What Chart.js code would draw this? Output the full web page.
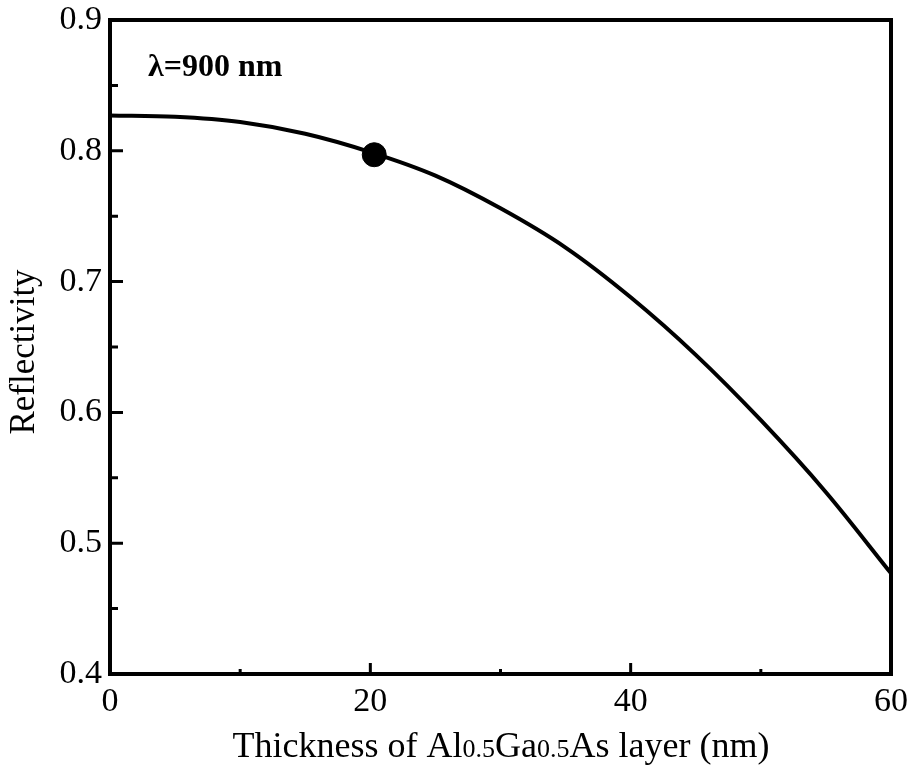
<!DOCTYPE html>
<html>
<head>
<meta charset="utf-8">
<script src="https://cdn.jsdelivr.net/npm/chart.js@4.4.1/dist/chart.umd.min.js"></script>
<style>
  html, body { margin: 0; padding: 0; background: #fff; }
  #wrap { width: 911px; height: 767px; position: relative; }
</style>
</head>
<body>
<div id="wrap"><canvas id="reflChart"></canvas></div>
<script>
// Reflectivity vs. Al0.5Ga0.5As layer thickness at 900 nm
const thickness = [0, 5, 10, 15, 20, 25, 30, 35, 40, 45, 50, 55, 60];
const reflectivity = [0.827, 0.826, 0.822, 0.813, 0.799, 0.781, 0.756, 0.726, 0.688, 0.644, 0.594, 0.539, 0.477];
const markedPoint = [{ x: 20.3, y: 0.797 }];
const xTicks = [0, 20, 40, 60];
const xMinorTicks = [10, 30, 50];
const yTicks = [0.4, 0.5, 0.6, 0.7, 0.8, 0.9];
const yMinorTicks = [0.45, 0.55, 0.65, 0.75, 0.85];

const SERIF = '"Liberation Serif", "DejaVu Serif", serif';

// frame + inward tick marks + titles
const framePlugin = {
    id: 'frame',
    afterDraw(chart) {
        const { ctx, chartArea: a, scales } = chart;
        const xs = scales.x, ys = scales.y;
        ctx.save();
        ctx.strokeStyle = '#000';
        ctx.lineWidth = 4;
        ctx.strokeRect(a.left, a.top, a.right - a.left, a.bottom - a.top);

        ctx.lineWidth = 3;
        ctx.beginPath();
        xTicks.slice(1, -1).forEach(v => {
            const px = xs.getPixelForValue(v);
            ctx.moveTo(px, a.bottom); ctx.lineTo(px, a.bottom - 11);
        });
        xMinorTicks.forEach(v => {
            const px = xs.getPixelForValue(v);
            ctx.moveTo(px, a.bottom); ctx.lineTo(px, a.bottom - 5);
        });
        yTicks.slice(1, -1).forEach(v => {
            const py = ys.getPixelForValue(v);
            ctx.moveTo(a.left, py); ctx.lineTo(a.left + 13, py);
        });
        yMinorTicks.forEach(v => {
            const py = ys.getPixelForValue(v);
            ctx.moveTo(a.left, py); ctx.lineTo(a.left + 8, py);
        });
        ctx.stroke();

        // annotation
        ctx.fillStyle = '#000';
        ctx.font = 'bold 32px ' + SERIF;
        ctx.textBaseline = 'alphabetic';
        ctx.textAlign = 'left';
        ctx.fillText('λ=900 nm', 148, 76);

        // x axis title with smaller composition digits
        const parts = [
            ['Thickness of Al', 36], ['0.5', 26], ['Ga', 36], ['0.5', 26], ['As layer (nm)', 36]
        ];
        let total = 0;
        parts.forEach(p => { ctx.font = p[1] + 'px ' + SERIF; total += ctx.measureText(p[0]).width; });
        let cx = 501 - total / 2;
        parts.forEach(p => {
            ctx.font = p[1] + 'px ' + SERIF;
            ctx.fillText(p[0], cx, 757);
            cx += ctx.measureText(p[0]).width;
        });

        // y axis title
        ctx.translate(25, 352);
        ctx.rotate(-Math.PI / 2);
        ctx.textAlign = 'center';
        ctx.textBaseline = 'middle';
        ctx.font = '35px ' + SERIF;
        ctx.fillText('Reflectivity', 0, 0);
        ctx.restore();
    }
};

new Chart(document.getElementById('reflChart'), {
    type: 'scatter',
    data: {
        datasets: [{
            data: thickness.map((t, i) => ({ x: t, y: reflectivity[i] })),
            showLine: true,
            borderColor: '#000',
            borderWidth: 4,
            pointRadius: 0,
            cubicInterpolationMode: 'monotone',
            order: 2
        }, {
            data: markedPoint,
            pointRadius: 12,
            pointBackgroundColor: '#000',
            pointBorderColor: '#000',
            order: 1
        }]
    },
    options: {
        responsive: true,
        maintainAspectRatio: false,
        animation: false,
        layout: { padding: { left: 0, right: 20, top: 0, bottom: 0 } },
        plugins: { legend: { display: false }, tooltip: { enabled: false } },
        scales: {
            x: {
                min: 0, max: 60,
                afterBuildTicks: s => { s.ticks = xTicks.map(v => ({ value: v })); },
                afterFit: s => { s.height = 93; },
                grid: { display: false },
                border: { display: false },
                ticks: {
                    color: '#000',
                    padding: 0,
                    maxRotation: 0,
                    font: { family: SERIF, size: 34 }
                }
            },
            y: {
                min: 0.4, max: 0.9,
                afterBuildTicks: s => { s.ticks = yTicks.map(v => ({ value: v })); },
                afterFit: s => { s.width = 110; s.paddingTop = 20; },
                grid: { display: false },
                border: { display: false },
                ticks: {
                    color: '#000',
                    padding: 0,
                    font: { family: SERIF, size: 34 },
                    callback: v => v.toFixed(1)
                }
            }
        }
    },
    plugins: [framePlugin]
});
</script>
</body>
</html>
